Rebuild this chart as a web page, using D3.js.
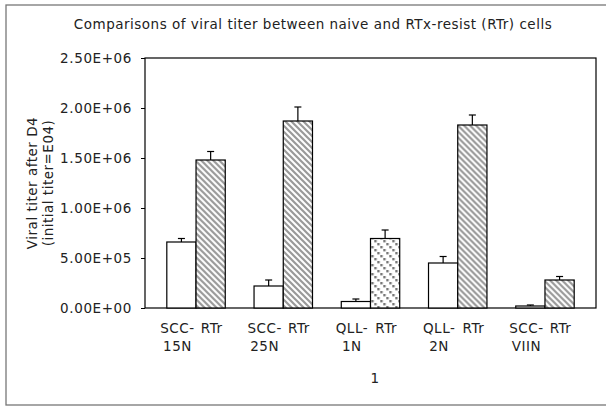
<!DOCTYPE html>
<html>
<head>
<meta charset="utf-8">
<script src="https://cdn.jsdelivr.net/npm/d3@7"></script>
<style>
  body { margin: 0; background: #fff; }
  text { font-family: "DejaVu Sans", sans-serif; fill: #222; letter-spacing: 0.5px; }
</style>
</head>
<body>
<div id="chart"></div>
<script>
// data
var groups = ["SCC-15N", "SCC-25N", "QLL-1N", "QLL-2N", "SCC-VIIN"];
var groupTop = ["SCC-", "SCC-", "QLL-", "QLL-", "SCC-"];
var groupBottom = ["15N", "25N", "1N", "2N", "VIIN"];
var naive = [6.6e5, 2.2e5, 6.5e4, 4.5e5, 2.0e4];
var naiveErr = [3.5e4, 6.0e4, 2.5e4, 6.5e4, 1.0e4];
var resist = [1.48e6, 1.87e6, 6.95e5, 1.83e6, 2.8e5];
var resistErr = [8.5e4, 1.4e5, 8.5e4, 1.0e5, 3.5e4];
var yTicks = [0, 5e5, 1e6, 1.5e6, 2e6, 2.5e6];
var resistLabel = "RTr";

var width = 606, height = 407;
var margin = {left: 145, right: 10, top: 58, bottom: 99};
var fs = "13.5px";

var svg = d3.select("#chart").append("svg")
  .attr("width", width).attr("height", height);

// patterns
var defs = svg.append("defs");
var stripe = defs.append("pattern")
  .attr("id", "stripe").attr("patternUnits", "userSpaceOnUse")
  .attr("width", 6).attr("height", 6);
stripe.append("rect").attr("width", 6).attr("height", 6).attr("fill", "#fff");
stripe.append("path").attr("d", "M-1,-1L7,7M-1,5L1,7M5,-1L7,1")
  .attr("stroke", "#999").attr("stroke-width", 2.2);

// dashed diagonal (3rd group only)
var checks = defs.append("pattern")
  .attr("id", "checks").attr("patternUnits", "userSpaceOnUse")
  .attr("width", 9).attr("height", 9);
checks.append("rect").attr("width", 9).attr("height", 9).attr("fill", "#fff");
[0, 3, 6].forEach(function(o) {
  checks.append("rect").attr("x", o).attr("y", o).attr("width", 2.4).attr("height", 2.4).attr("fill", "#777");
});

// outer frame
svg.append("rect")
  .attr("x", 6).attr("y", 5).attr("width", 610).attr("height", 400)
  .attr("fill", "none").attr("stroke", "#777").attr("stroke-width", 1.3);

// title
svg.append("text")
  .attr("x", 313).attr("y", 29)
  .attr("text-anchor", "middle")
  .style("font-size", fs)
  .text("Comparisons of viral titer between naive and RTx-resist (RTr) cells");

var x0 = d3.scaleBand().domain(groups)
  .range([margin.left, width - margin.right])
  .paddingInner(0.33).paddingOuter(0.25);
var x1 = d3.scaleBand().domain(["naive", "resist"]).range([0, x0.bandwidth()]);
var y = d3.scaleLinear().domain([0, 2.5e6]).range([height - margin.bottom, margin.top]);

// plot frame
svg.append("rect")
  .attr("x", margin.left).attr("y", margin.top)
  .attr("width", width - margin.right - margin.left)
  .attr("height", y(0) - margin.top)
  .attr("fill", "none").attr("stroke", "#000").attr("stroke-width", 1.2);

// y axis
var yAxis = svg.append("g")
  .attr("transform", "translate(" + margin.left + ",0)")
  .call(d3.axisLeft(y).tickValues(yTicks).tickSize(4).tickPadding(9)
    .tickFormat(function(d) {
      var s = d.toExponential(2).toUpperCase();
      var parts = s.split("E");
      var e = +parts[1];
      return parts[0] + "E" + (e < 0 ? "-" : "+") + (Math.abs(e) < 10 ? "0" : "") + Math.abs(e);
    }));
yAxis.select(".domain").remove();
yAxis.selectAll("line").attr("stroke", "#000");
yAxis.selectAll("text").style("font-size", "13.5px").attr("fill", "#222")
  .style("font-family", "DejaVu Sans, sans-serif").style("letter-spacing", "0.6px");

// y title
var yt = svg.append("text")
  .attr("transform", "translate(37," + ((y(0) + margin.top) / 2) + ") rotate(-90)")
  .attr("text-anchor", "middle")
  .style("font-size", fs);
yt.append("tspan").attr("x", 0).attr("dy", 0).text("Viral titer after D4");
yt.append("tspan").attr("x", 0).attr("dy", 16).text("(initial titer=E04)");

// bars
var rows = groups.map(function(g, i) {
  return [
    {g: g, key: "naive", v: naive[i], e: naiveErr[i], fill: "#fff"},
    {g: g, key: "resist", v: resist[i], e: resistErr[i], fill: i === 2 ? "url(#checks)" : "url(#stripe)"}
  ];
});

var gGroups = svg.selectAll(".grp").data(rows).enter().append("g")
  .attr("class", "grp")
  .attr("transform", function(d) { return "translate(" + x0(d[0].g) + ",0)"; });

var bars = gGroups.selectAll(".bar").data(function(d) { return d; }).enter();

// error bars (upper only)
bars.append("line")
  .attr("x1", function(d) { return x1(d.key) + x1.bandwidth() / 2; })
  .attr("x2", function(d) { return x1(d.key) + x1.bandwidth() / 2; })
  .attr("y1", function(d) { return y(d.v); })
  .attr("y2", function(d) { return y(d.v + d.e); })
  .attr("stroke", "#000").attr("stroke-width", 1.2);
bars.append("line")
  .attr("x1", function(d) { return x1(d.key) + x1.bandwidth() / 2 - 3.5; })
  .attr("x2", function(d) { return x1(d.key) + x1.bandwidth() / 2 + 3.5; })
  .attr("y1", function(d) { return y(d.v + d.e); })
  .attr("y2", function(d) { return y(d.v + d.e); })
  .attr("stroke", "#000").attr("stroke-width", 1.2);

bars.append("rect")
  .attr("class", "bar")
  .attr("x", function(d) { return x1(d.key); })
  .attr("y", function(d) { return y(d.v); })
  .attr("width", x1.bandwidth())
  .attr("height", function(d) { return y(0) - y(d.v); })
  .attr("fill", function(d) { return d.fill; })
  .attr("stroke", "#000").attr("stroke-width", 1.2);

// x labels
gGroups.append("text")
  .attr("x", x1("naive") + x1.bandwidth() / 2 - 4)
  .attr("y", 333)
  .attr("text-anchor", "middle")
  .style("font-size", fs)
  .text(function(d, i) { return groupTop[i]; });
gGroups.append("text")
  .attr("x", x1("naive") + x1.bandwidth() / 2 - 4)
  .attr("y", 351)
  .attr("text-anchor", "middle")
  .style("font-size", fs)
  .text(function(d, i) { return groupBottom[i]; });
gGroups.append("text")
  .attr("x", x1("resist") + x1.bandwidth() / 2 + 1)
  .attr("y", 333)
  .attr("text-anchor", "middle")
  .style("font-size", fs)
  .text(resistLabel);

// x title
svg.append("text")
  .attr("x", 375).attr("y", 383)
  .attr("text-anchor", "middle")
  .style("font-size", fs)
  .text("1");
</script>
</body>
</html>
